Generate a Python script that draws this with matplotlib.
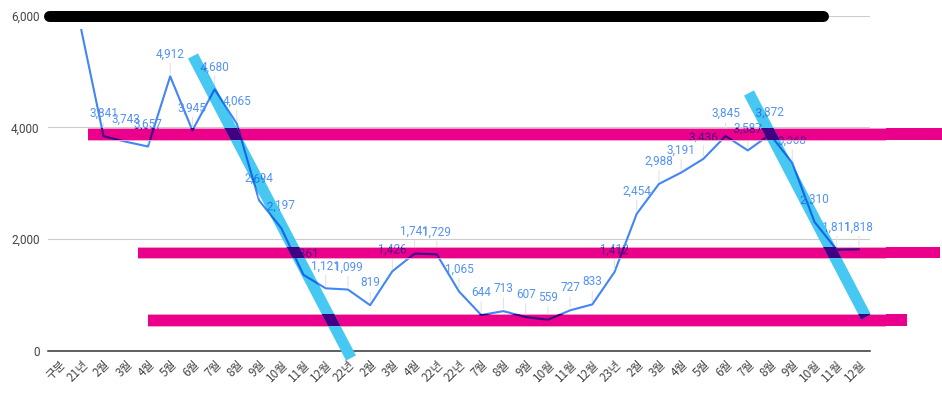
import numpy as np
import matplotlib
matplotlib.use("Agg")
import matplotlib.pyplot as plt
import matplotlib.transforms as mtransforms
from matplotlib.patches import Rectangle, Polygon, PathPatch
from matplotlib.path import Path
from matplotlib.textpath import TextPath
from matplotlib.font_manager import FontProperties

categories = ['구분', '21년', '2월', '3월', '4월', '5월', '6월', '7월', '8월', '9월',
              '10월', '11월', '12월', '22년', '2월', '3월', '4월', '22년', '22년',
              '7월', '8월', '9월', '10월', '11월', '12월', '23년', '2월', '3월', '4월',
              '5월', '6월', '7월', '8월', '9월', '10월', '11월', '12월']
values = [np.nan, 5740, 3841, 3743, 3657, 4912, 3945, 4680, 4065, 2694, 2197,
          1361, 1121, 1099, 819, 1426, 1741, 1729, 1065, 644, 713, 607, 559,
          727, 833, 1412, 2454, 2988, 3191, 3436, 3845, 3587, 3872, 3368, 2310,
          1811, 1818]
y_ticks = [0, 2000, 4000, 6000]

# hand-drawn marks on top of the chart, in image pixels (x, y from top-left)
black_bar = ((48.5, 15.5), (822.5, 15.5))
magenta_bars = [(88, 128, 942, 140), (138, 247, 940, 258), (148, 314, 907, 326)]
cyan_strokes = [((193, 56), (351, 358)), ((749, 93), (866, 317))]

W, H = 942, 397
LINE = '#4285F4'
LABEL = '#5391F5'
MAGENTA = '#EB008B'
CYAN = '#47C8F2'
LABEL_SIZE = 8.5
LABEL_OFF = 11.5  # points above the point

fig = plt.figure(figsize=(W / 100, H / 100), dpi=100)
ax = fig.add_axes([48 / W, (H - 351) / H, (870 - 48) / W, (351 - 15.5) / H])
px = mtransforms.Affine2D().scale(1 / W, -1 / H).translate(0, 1) + fig.transFigure

x = np.arange(len(categories))
ax.set_xlim(-0.5, len(categories) - 0.5)
ax.set_ylim(0, 6000)
for s in ['top', 'right', 'left']:
    ax.spines[s].set_visible(False)
ax.spines['bottom'].set_color('#333333')
ax.spines['bottom'].set_linewidth(1.1)
ax.set_yticks(y_ticks)
ax.set_yticklabels([f'{v:,}' for v in y_ticks], fontfamily='Roboto',
                   fontsize=8.5, color='#444444')
ax.tick_params(axis='y', length=0, pad=6)
ax.set_xticks(x)
ax.set_xticklabels(categories, rotation=45, ha='right', rotation_mode='anchor',
                   fontfamily=['Noto Sans CJK KR', 'DejaVu Sans'], fontsize=8.5,
                   color='#444444')
ax.tick_params(axis='x', length=0, pad=5)
for v in y_ticks[1:]:
    ax.axhline(v, color='#cccccc', lw=0.8, zorder=0.5)

ax.plot(x, values, color=LINE, lw=1.5, zorder=2)

labelled = [(i, v) for i, v in enumerate(values) if not np.isnan(v) and v <= 5500]
for i, v in labelled:
    ax.annotate(f'{v:,}', (i, v), xytext=(0, LABEL_OFF), textcoords='offset points',
                ha='center', va='bottom', fontsize=LABEL_SIZE, color=LABEL,
                fontfamily='Roboto', zorder=3,
                arrowprops=dict(arrowstyle='-', color='#e3e3e3', lw=0.8,
                                shrinkA=0, shrinkB=2))

label_font = FontProperties(family='Roboto', size=LABEL_SIZE)


def label_paths(color, zorder, clip):
    # same labels as outlines, so that they can be clipped to a shape
    for i, v in labelled:
        tp = TextPath((0, 0), f'{v:,}', prop=label_font)
        ext = tp.get_extents()
        tr = (mtransforms.Affine2D().translate(-ext.x0 - ext.width / 2, LABEL_OFF + 1.3)
              .scale(1 / 72) + fig.dpi_scale_trans
              + mtransforms.ScaledTranslation(i, v, ax.transData))
        p = PathPatch(tp, transform=tr, facecolor=color, edgecolor='none',
                      zorder=zorder)
        ax.add_patch(p)
        p.set_clip_path(clip)


# magenta bars
verts, codes = [], []
for x0, y0, x1, y1 in magenta_bars:
    ax.add_patch(Rectangle((x0, y0), x1 - x0, y1 - y0, transform=px,
                           facecolor=MAGENTA, edgecolor='none', zorder=4, clip_on=False))
    for yy in (y0, y1):
        ax.plot([x0, 885], [yy, yy], transform=px, color='#f3a0cc', lw=0.7,
                zorder=4.1, clip_on=False)
    verts += [(x0, y0), (x1, y0), (x1, y1), (x0, y1), (x0, y0)]
    codes += [Path.MOVETO, Path.LINETO, Path.LINETO, Path.LINETO, Path.CLOSEPOLY]
mag_clip = PathPatch(Path(verts, codes), transform=px)

dark_line = ax.plot(x, values, color='#3D0085', lw=1.5, zorder=5)[0]
dark_line.set_clip_path(mag_clip)
label_paths('#4A0088', 5, mag_clip)

# cyan strokes
cverts, ccodes = [], []
for (x0, y0), (x1, y1) in cyan_strokes:
    d = np.array([x1 - x0, y1 - y0], float)
    n = np.array([-d[1], d[0]]) / np.hypot(*d) * 5.6
    poly = [(x0 + n[0], y0 + n[1]), (x1 + n[0], y1 + n[1]),
            (x1 - n[0], y1 - n[1]), (x0 - n[0], y0 - n[1])]
    ax.add_patch(Polygon(poly, closed=True, transform=px, facecolor=CYAN,
                         edgecolor='none', zorder=6, clip_on=False))
    dark = Polygon(poly, closed=True, transform=px, facecolor='#410084',
                   edgecolor='none', zorder=8)
    ax.add_patch(dark)
    dark.set_clip_path(mag_clip)
    cverts += poly + [poly[0]]
    ccodes += [Path.MOVETO, Path.LINETO, Path.LINETO, Path.LINETO, Path.CLOSEPOLY]
cyan_clip = PathPatch(Path(cverts, ccodes), transform=px)

blue_line = ax.plot(x, values, color='#1268E8', lw=1.5, zorder=7)[0]
blue_line.set_clip_path(cyan_clip)
label_paths('#1C74E8', 7, cyan_clip)

# black rounded bar at the top
ax.plot([black_bar[0][0], black_bar[1][0]], [black_bar[0][1], black_bar[1][1]],
        transform=px, color='black', lw=7.9, solid_capstyle='round',
        zorder=10, clip_on=False)

fig.savefig('out.png', dpi=100)
